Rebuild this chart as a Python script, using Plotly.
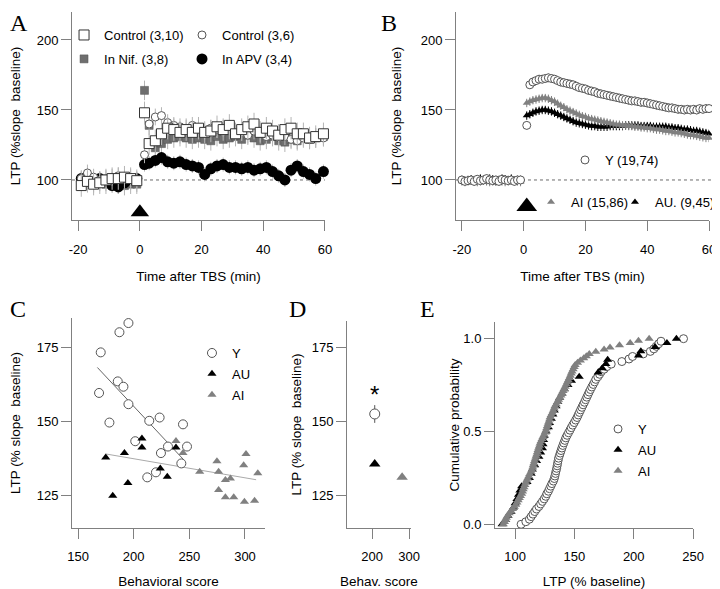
import plotly.graph_objects as go

# ---------------- Panel A : young slices, drugs ----------------
a_time = [-19, -17, -15, -13, -11, -9, -7, -5, -3, -1,
          1.5, 3, 5, 7, 9, 11, 13, 15, 17, 19, 21, 23, 25, 27, 29,
          31, 33, 35, 37, 39, 41, 43, 45, 47, 49, 51, 53, 55, 57, 59.5]
a_ctrl10 = [96, 99, 97, 98, 100, 101, 101, 102, 101, 99.5,
            148, 126, 128, 133, 137, 136, 134, 136, 134, 137, 134, 135, 138, 136, 139,
            133, 136, 138, 140, 134, 137, 135, 132, 136, 137, 133, 133, 130, 131, 133]
a_ctrl6 = [101, 105, 102, 100, 101, 102, 103, 101, 102, 100,
           118, 140, 145, 146, 141, 139, 138, 137, 139, 136, 135, 137, 136, 137, 135,
           133, 134, 132, 135, 133, 131, 132, 130, 131, 129, 128, 130, 129, 131, 130]
a_nif = [99, 100, 98, 99, 97, 98, 97, 96, 97, 97,
         164, 139, 123, 126, 129, 130, 131, 130, 129, 130, 129, 128, 131, 129, 130,
         131, 129, 132, 130, 128, 129, 131, 128, 127, 129, 128, 130, 129, 130, 131]
a_apv = [101, 102, 100, 101, 99, 96, 95, 98, 100, 101,
         111, 112, 114, 116, 113, 112, 113, 111, 110, 109, 104, 108, 110, 111, 109,
         109, 108, 109, 107, 108, 109, 106, 103, 100, 107, 110, 106, 104, 101, 106]
a_err = {"ctrl10": 8, "ctrl6": 6, "nif": 7, "apv": 5}

# ---------------- Panel B : young vs aged ----------------
b_time = list(range(-20, 0)) + list(range(1, 61))
b_y = [100, 99, 99.5, 100, 99, 100.5, 99.5, 100, 101, 100,
       99.5, 100, 99, 100.5, 100, 99.5, 100, 99, 100, 100,
       139, 168, 170, 171, 172, 172, 172.5, 173, 172.5, 172,
       171, 170, 169.5, 169, 168.5, 168, 167, 166, 165.5, 165,
       164, 163.5, 163, 162, 161.5, 161, 160.5, 160, 159.5, 159,
       158.5, 158, 157.5, 157, 156.5, 156.5, 156, 155.5, 155.5, 155,
       154.5, 154, 153.5, 153, 152.5, 152, 151.5, 151.5, 151, 150.5,
       150.5, 150, 150.5, 150, 150.5, 150, 151, 150.5, 151, 151]
b_ai = [99, 98.5, 99, 99.5, 99, 98.5, 99, 99.5, 99, 98.5,
        99, 99.5, 99, 99, 98.5, 99, 99.5, 99, 99, 98.5,
        155, 156, 157, 157.5, 158, 158.5, 158.5, 158, 157, 156,
        154.5, 153, 152, 150.5, 149.5, 148.5, 147.5, 146.5, 145.5, 145,
        144, 143.5, 143, 142.5, 142, 141.5, 141, 140.5, 140, 139.5,
        139.5, 139, 139, 138.5, 138.5, 138, 138, 137.5, 137.5, 137,
        137, 136.5, 136, 136, 135.5, 135, 135, 134.5, 134, 134,
        133.5, 133, 132.5, 132, 132, 131.5, 131, 130.5, 130, 130]
b_au = [100, 99.5, 100, 100.5, 99, 100, 101, 100, 99.5, 101,
        100.5, 99, 100, 101, 100.5, 100, 101, 99.5, 100, 100,
        146, 147, 148, 149, 149.5, 150, 150, 149.5, 149, 148,
        147, 146, 145, 144, 143, 142, 141, 140.5, 140, 139.5,
        139, 138.5, 138.5, 138, 138, 138, 138, 138.5, 138.5, 138.5,
        138.5, 138.5, 139, 139, 139, 139, 139, 138.5, 138.5, 138.5,
        138.5, 138, 138, 138, 138, 138, 137.5, 137.5, 137, 137,
        136.5, 136, 136, 135.5, 135, 135, 134.5, 134, 133.5, 133]
b_err = 3

# TBS arrows
tbs_a = ([0], [77])
tbs_b = ([1], [81])

# ---------------- Panel C : LTP vs behavioral score ----------------
c_y_x = [195.3, 187.2, 170.4, 185.7, 190.8, 168.9, 195.3, 178.2, 214, 223.3,
         244.3, 201.4, 230.8, 247.9, 224.5, 242.8, 220, 212.2]
c_y_y = [183.1, 180.0, 173.2, 163.4, 161.6, 159.5, 155.7, 149.5, 150.1, 151.2,
         148.9, 143.2, 141.4, 141.4, 139.2, 135.7, 132.7, 131]
c_au_x = [207.4, 207.4, 191.7, 174.9, 238, 223.9, 230.2, 194.8, 181.2]
c_au_y = [144.1, 141.1, 139.2, 137.7, 141.1, 134, 131.2, 129.1, 124.8]
c_ai_x = [238, 244.3, 259.3, 274.8, 276.3, 300.9, 298.8, 311.5, 282.4, 286.9,
          276.3, 282.4, 289.9, 299.5, 308.6]
c_ai_y = [143.3, 139.2, 132.9, 136.4, 132.9, 138.9, 135.1, 132.4, 130.1, 130.6,
          126.7, 124.3, 124.3, 122.8, 123.1]
fit_young_x = [167.4, 244.3]
fit_young_y = [168.1, 137.2]
fit_aged_x = [174.9, 310]
fit_aged_y = [138.9, 130.2]

# ---------------- Panel D : group means ----------------
d_groups = ["Y", "AU", "AI"]
d_x = [207, 207, 281]
d_y = [152.4, 135.5, 131]
d_err = [3, 0, 0]
d_star = (207, 159)

# ---------------- Panel E : cumulative distributions ----------------
e_y = [105, 109, 112, 113.5, 115, 116.5, 118, 120, 121.5, 123,
       124.5, 125.8, 126.7, 128, 129, 130, 131, 132.2, 133, 133.5,
       134, 134.5, 135, 135.4, 135.8, 136.2, 136.6, 137.3, 138, 138.7,
       139.4, 140.2, 141, 141.9, 142.7, 143.8, 145, 146.2, 147.3, 148.5,
       149.8, 151, 152.2, 153.2, 154.2, 155.2, 156.3, 157.3, 158.4, 159.4,
       160.4, 161.4, 162.4, 163.5, 164.6, 165.8, 167, 168, 169.7, 171.2,
       172.6, 175, 177.3, 181, 190, 196, 199, 208, 214, 217,
       219, 221, 223, 242]
e_au = [89, 92, 94, 96.5, 98.5, 100, 101.5, 102.8, 104, 105.5,
        110, 112, 113.5, 114.5, 116.5, 118, 120, 121.5, 123, 123.5,
        124, 124.5, 126, 128, 129, 130.5, 131.8, 133, 134.5, 136,
        137.5, 139.5, 141.5, 144.5, 147.5, 154, 170, 173.5, 176.5, 178,
        204, 206, 218, 228, 236]
e_ai = [90, 91, 91.8, 92.6, 93.8, 95, 96.5, 97.8, 99.3, 100.5,
        101.5, 102.5, 103.5, 104.5, 105.5, 106.2, 106.8, 107.5, 108.2, 109,
        109.7, 110.5, 111.5, 112.3, 113.4, 114.2, 114.8, 115.3, 115.8, 116.4,
        117, 117.6, 118.2, 118.7, 119.3, 119.9, 120.5, 121, 121.8, 122.7,
        123.5, 124.4, 125.3, 126, 126.6, 127.2, 127.8, 128.4, 129, 129.5,
        130.4, 131.3, 132.1, 132.9, 133.6, 134.6, 135.6, 136.6, 137.6, 138.6,
        139.5, 140.4, 141.3, 142.2, 143.1, 144, 144.8, 145.7, 146.5, 147.3,
        148, 148.9, 149.8, 150.6, 152.6, 155, 157.8, 160, 162.5, 168,
        175, 180, 188, 197, 204, 213]


def cum_prob(vals):
    n = len(vals)
    return [i / (n - 1) for i in range(n)]


FONT = "Arial, Liberation Sans, sans-serif"
SERIF = "Liberation Serif, Times New Roman, serif"
GRAY = "#808080"
DARK = "#555555"
ERR = "#b4b4b4"

fig = go.Figure()

# Panel A traces (bottom to top)
fig.add_trace(go.Scatter(x=a_time, y=a_nif, mode="markers", name="In Nif. (3,8)",
                         xaxis="x", yaxis="y", legend="legend", legendgroup="nif", legendrank=2,
                         error_y=dict(type="constant", value=a_err["nif"], color=ERR, thickness=1, width=0),
                         marker=dict(symbol="square", size=8, color="#6e6e6e", line=dict(width=0.5, color="#555"))))
fig.add_trace(go.Scatter(x=a_time, y=a_apv, mode="markers", name="In APV (3,4)",
                         xaxis="x", yaxis="y", legend="legend2", legendgroup="apv", legendrank=2,
                         error_y=dict(type="constant", value=a_err["apv"], color=ERR, thickness=1, width=0),
                         marker=dict(symbol="circle", size=11, color="black")))
fig.add_trace(go.Scatter(x=a_time, y=a_ctrl6, mode="markers", name="Control (3,6)",
                         xaxis="x", yaxis="y", legend="legend2", legendgroup="c6", legendrank=1,
                         error_y=dict(type="constant", value=a_err["ctrl6"], color=ERR, thickness=1, width=0),
                         marker=dict(symbol="circle", size=8, color="white", line=dict(width=1, color=DARK))))
fig.add_trace(go.Scatter(x=a_time, y=a_ctrl10, mode="markers", name="Control (3,10)",
                         xaxis="x", yaxis="y", legend="legend", legendgroup="c10", legendrank=1,
                         error_y=dict(type="constant", value=a_err["ctrl10"], color=ERR, thickness=1, width=0),
                         marker=dict(symbol="square", size=10, color="white", line=dict(width=1, color="#333"))))
fig.add_trace(go.Scatter(x=tbs_a[0], y=tbs_a[1], mode="markers", showlegend=False, xaxis="x", yaxis="y",
                         marker=dict(symbol="triangle-up", size=16, color="black")))

# Panel B traces (aged first, young on top)
fig.add_trace(go.Scatter(x=b_time, y=b_au, mode="markers", name="AU. (9,45)",
                         xaxis="x2", yaxis="y2", legend="legend5",
                         error_y=dict(type="constant", value=b_err, color="black", thickness=1, width=0),
                         marker=dict(symbol="triangle-up", size=7, color="black")))
fig.add_trace(go.Scatter(x=b_time, y=b_ai, mode="markers", name="AI (15,86)",
                         xaxis="x2", yaxis="y2", legend="legend4",
                         error_y=dict(type="constant", value=b_err, color=GRAY, thickness=1, width=0),
                         marker=dict(symbol="triangle-up", size=7, color=GRAY)))
fig.add_trace(go.Scatter(x=b_time, y=b_y, mode="markers", name="Y (19,74)",
                         xaxis="x2", yaxis="y2", legend="legend3",
                         error_y=dict(type="constant", value=b_err, color=DARK, thickness=1, width=0),
                         marker=dict(symbol="circle", size=8, color="white", line=dict(width=1, color=DARK))))
fig.add_trace(go.Scatter(x=tbs_b[0], y=tbs_b[1], mode="markers", showlegend=False, xaxis="x2", yaxis="y2",
                         marker=dict(symbol="triangle-up", size=18, color="black")))

# Panel C traces
fig.add_trace(go.Scatter(x=fit_young_x, y=fit_young_y, mode="lines", showlegend=False,
                         xaxis="x3", yaxis="y3", line=dict(color="#666", width=1)))
fig.add_trace(go.Scatter(x=fit_aged_x, y=fit_aged_y, mode="lines", showlegend=False,
                         xaxis="x3", yaxis="y3", line=dict(color="#aaa", width=1)))
fig.add_trace(go.Scatter(x=c_y_x, y=c_y_y, mode="markers", name="Y", xaxis="x3", yaxis="y3",
                         legend="legend6", legendgroup="cy",
                         marker=dict(symbol="circle", size=9, color="white", line=dict(width=1, color=DARK))))
fig.add_trace(go.Scatter(x=c_au_x, y=c_au_y, mode="markers", name="AU", xaxis="x3", yaxis="y3",
                         legend="legend6", legendgroup="cau",
                         marker=dict(symbol="triangle-up", size=8, color="black")))
fig.add_trace(go.Scatter(x=c_ai_x, y=c_ai_y, mode="markers", name="AI", xaxis="x3", yaxis="y3",
                         legend="legend6", legendgroup="cai",
                         marker=dict(symbol="triangle-up", size=8, color=GRAY)))

# Panel D traces
d_style = [dict(symbol="circle", size=10, color="white", line=dict(width=1, color=DARK)),
           dict(symbol="triangle-up", size=10, color="black"),
           dict(symbol="triangle-up", size=10, color=GRAY)]
for i, g in enumerate(d_groups):
    fig.add_trace(go.Scatter(x=[d_x[i]], y=[d_y[i]], mode="markers", name=g, showlegend=False,
                             xaxis="x4", yaxis="y4",
                             error_y=dict(type="data", array=[d_err[i]], color=DARK, thickness=1, width=0),
                             marker=d_style[i]))

# Panel E traces
fig.add_trace(go.Scatter(x=e_y, y=cum_prob(e_y), mode="markers", name="Y", xaxis="x5", yaxis="y5",
                         legend="legend7", legendgroup="ey",
                         marker=dict(symbol="circle", size=8, color="white", line=dict(width=1, color=DARK))))
fig.add_trace(go.Scatter(x=e_au, y=cum_prob(e_au), mode="markers", name="AU", xaxis="x5", yaxis="y5",
                         legend="legend7", legendgroup="eau",
                         marker=dict(symbol="triangle-up", size=8, color="black")))
fig.add_trace(go.Scatter(x=e_ai, y=cum_prob(e_ai), mode="markers", name="AI", xaxis="x5", yaxis="y5",
                         legend="legend7", legendgroup="eai",
                         marker=dict(symbol="triangle-up", size=8, color=GRAY)))

fig.update_traces(cliponaxis=False)


def axis(rng, ticks, labels, domain, anchor, title, standoff, **kw):
    return dict(range=rng, domain=domain, anchor=anchor, tickvals=ticks, ticktext=labels,
                showline=True, linecolor=GRAY, linewidth=1, ticks="outside", ticklen=10,
                tickcolor=GRAY, showgrid=False, zeroline=False, automargin=False,
                tickfont=dict(family=FONT, size=13, color="black"),
                title=dict(text=title, standoff=standoff,
                           font=dict(family=FONT, size=13.5, color="black")), **kw)


def leg(x, y, gap=4):
    return dict(x=x, y=y, xanchor="left", yanchor="top", bgcolor="rgba(0,0,0,0)",
                font=dict(family=FONT, size=13, color="black"), tracegroupgap=gap, itemwidth=30)


def letter(txt, x, y):
    return dict(text=txt, x=x, y=y, xref="paper", yref="paper", xanchor="left", yanchor="top",
                showarrow=False, font=dict(family=SERIF, size=24, color="black"))


time_ticks = [-20, 0, 20, 40, 60]
time_labels = ["-20", "0", "20", "40", "60"]

# the page adds an 8px body margin, so the figure is 712x581 and sits at (8, 8)
lay = dict(
    width=712, height=581, margin=dict(l=0, r=0, t=0, b=0, autoexpand=False),
    paper_bgcolor="white", plot_bgcolor="white", font=dict(family=FONT, size=13, color="black"),
    xaxis=axis([-22, 60], time_ticks, time_labels, [0.0899, 0.4452], "y",
               "Time after TBS (min)", 15, ticklabelstandoff=7),
    yaxis=axis([71.4, 220], [100, 150, 200], ["100", "150", "200"], [0.6351, 0.9931], "x",
               "LTP (%slope&nbsp; baseline)", 15),
    xaxis2=axis([-21.9, 60], time_ticks, time_labels, [0.6292, 0.9846], "y2",
                "Time after TBS (min)", 15, ticklabelstandoff=7),
    yaxis2=axis([71.4, 220], [100, 150, 200], ["100", "150", "200"], [0.6351, 0.9931], "x2",
                "LTP (%slope&nbsp; baseline)", 15),
    xaxis3=axis([144.6, 318], [150, 200, 250, 300], ["150", "200", "250", "300"], [0.0899, 0.3610], "y3",
                "Behavioral score", 14, ticklabelstandoff=6),
    yaxis3=axis([113.9, 184.8], [125, 150, 175], ["125", "150", "175"], [0.1050, 0.4664], "x3",
                "LTP (% slope&nbsp; baseline)", 15),
    xaxis4=axis([132, 305], [200, 300], ["200", "300"], [0.4761, 0.5660], "y4",
                "Behav. score", 14, ticklabelstandoff=6),
    yaxis4=axis([113.9, 183.8], [125, 150, 175], ["125", "150", "175"], [0.1050, 0.4613], "x4",
                "LTP (% slope&nbsp; baseline)", 6),
    xaxis5=axis([83, 250], [100, 150, 200, 250], ["100", "150", "200", "250"], [0.6840, 0.9621], "y5",
                "LTP (% baseline)", 14, ticklabelstandoff=6),
    yaxis5=axis([-0.02, 1.09], [0, 0.5, 1], ["0.0", "0.5", "1.0"], [0.1050, 0.4596], "x5",
                "Cumulative probability", 0),
    legend=leg(0.0787, 0.9793),
    legend2=leg(0.2444, 0.9793),
    legend3=leg(0.7823, 0.7642),
    legend4=leg(0.7346, 0.6919),
    legend5=leg(0.8525, 0.6919),
    legend6=leg(0.2584, 0.4320, 1),
    legend7=leg(0.8287, 0.3012, 1),
    shapes=[
        dict(type="line", xref="x domain", yref="y", x0=0, x1=1, y0=100, y1=100,
             line=dict(color="#444", width=0.8, dash="dot"), layer="below"),
        dict(type="line", xref="x2 domain", yref="y2", x0=0, x1=1.04, y0=100, y1=100,
             line=dict(color="#444", width=0.8, dash="dot"), layer="below"),
    ],
    annotations=[
        letter("A", 0.0, 1.0),
        letter("B", 0.521, 1.0),
        letter("C", 0.0, 0.5077),
        letter("D", 0.392, 0.5077),
        letter("E", 0.576, 0.5077),
        dict(text="*", x=d_star[0], y=d_star[1], xref="x4", yref="y4", showarrow=False,
             font=dict(family=FONT, size=24, color="black")),
    ],
)

fig.update_layout(**lay)
fig.write_html("out.html")
